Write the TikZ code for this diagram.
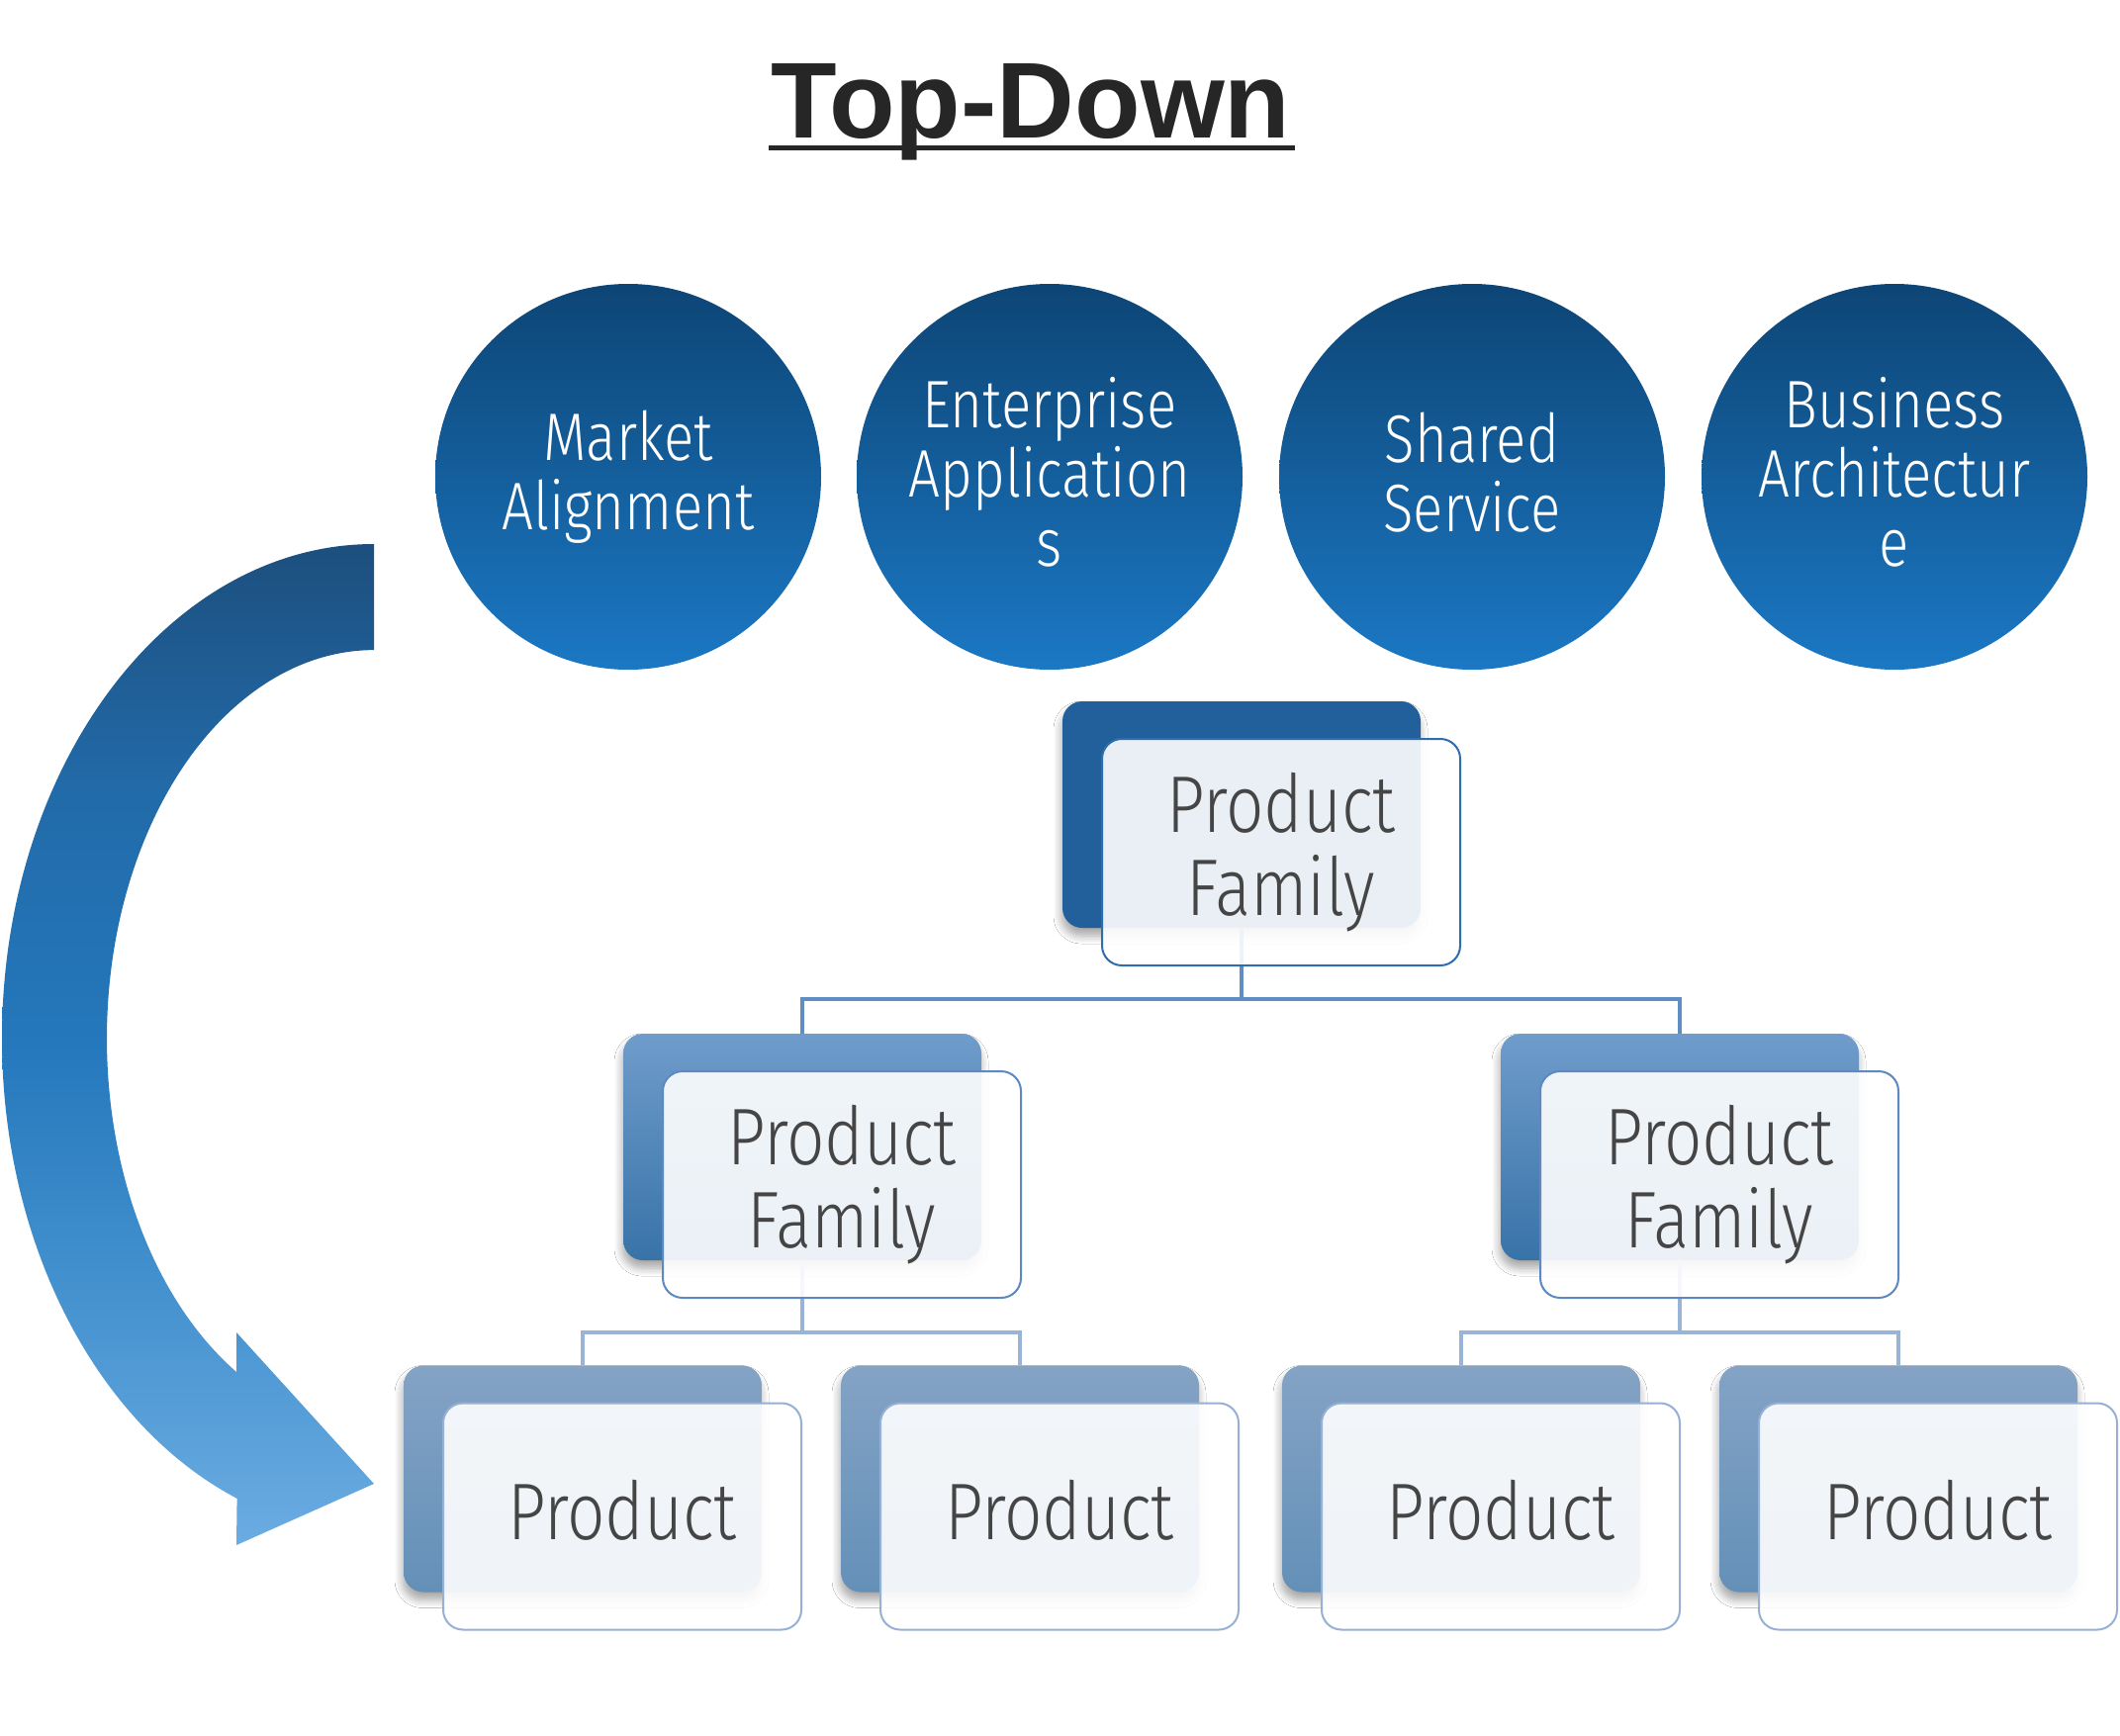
\documentclass[tikz,border=0pt]{standalone}
\usepackage{fontspec}
\usetikzlibrary{shadows.blur,calc}
\newfontfamily\lightfont{Fira Sans}[UprightFont=* Light, FakeStretch=0.83]
\newfontfamily\titlefont{Liberation Sans}
\definecolor{titlegray}{HTML}{262626}
\definecolor{txtgray}{HTML}{454545}
\definecolor{circtop}{HTML}{0D4575}
\definecolor{circbot}{HTML}{1B78C4}
\definecolor{arrtop}{HTML}{1C4F7E}
\definecolor{arrup}{HTML}{226AA8}
\definecolor{arrmid}{HTML}{2478BC}
\definecolor{arrlow}{HTML}{4592CF}
\definecolor{arrbot}{HTML}{6BACE2}
\definecolor{backA}{HTML}{21609A}
\definecolor{backBt}{HTML}{6F9CCB}
\definecolor{backBb}{HTML}{3873A8}
\definecolor{backCt}{HTML}{84A3C5}
\definecolor{backCb}{HTML}{6490B8}
\definecolor{edgeA}{HTML}{2F6EAE}
\definecolor{edgeB}{HTML}{5D89C0}
\definecolor{edgeC}{HTML}{97B0D3}
\definecolor{connA}{HTML}{5F8DC4}
\definecolor{connB}{HTML}{9AB4D8}
\pgfdeclareverticalshading{arrowshade}{100bp}{color(0bp)=(arrbot); color(25bp)=(arrbot);
  color(37.5bp)=(arrlow); color(50bp)=(arrmid); color(63bp)=(arrup); color(75bp)=(arrtop); color(100bp)=(arrtop)}
\newcommand\cstrut{\rule[-5pt]{0pt}{30pt}}
\newcommand\bstrut{\rule[-6.5pt]{0pt}{36.5pt}}
\tikzset{
  circ/.style={circle, minimum size=195pt, inner sep=0pt, top color=circtop, bottom color=circbot,
    text=white, align=center, font=\lightfont\fontsize{34}{35}\selectfont},
  backbox/.style={rectangle, rounded corners=10pt, minimum width=181pt, minimum height=114.5pt, inner sep=0pt,
    blur shadow={shadow xshift=-0.5pt, shadow yshift=-4pt, shadow blur radius=4pt, shadow blur steps=8, shadow opacity=35}},
  frontbox/.style={rectangle, rounded corners=10pt, minimum width=181pt, minimum height=114.5pt, inner sep=0pt,
    fill=white, fill opacity=0.9, text opacity=1, draw, line width=1pt, text=txtgray, align=center,
    font=\lightfont\fontsize{40.6}{42}\selectfont},
  conn/.style={line width=2pt},
}
\begin{document}
\begin{tikzpicture}[x=0.5pt, y=-0.5pt]
\useasboundingbox (0,0) rectangle (2143,1755);
\fill[white] (0,0) rectangle (2143,1755);

% title
\node[anchor=base, inner sep=0pt, text=titlegray, font=\titlefont\bfseries\fontsize{54.5}{60}\selectfont] (title) at (1042,140) {Top-Down};
\draw[titlegray, line width=2.5pt] ([xshift=-1pt,yshift=-5pt]title.base west) -- ([xshift=2pt,yshift=-5pt]title.base east);

% circles
\node[circ] (c1) at (635,482) {\cstrut Market\\\cstrut Alignment};
\node[circ] (c2) at (1061,482) {\cstrut Enterprise\\\cstrut Application\\\cstrut s};
\node[circ] (c3) at (1488,482) {\cstrut Shared\\\cstrut Service};
\node[circ] (c4) at (1915,482) {\cstrut Business\\\cstrut Architectur\\\cstrut e};

% curved arrow
\shade[shading=arrowshade]
  (378,550) arc[start angle=90, end angle=248.4, x radius=188pt, y radius=250pt]
  -- (239,1562) -- (378,1500) -- (239,1347) -- (239,1387)
  arc[start angle=239, end angle=90, x radius=135pt, y radius=196.5pt]
  -- cycle;

% back boxes
\node[backbox, fill=backA] (pf) at (1255,823.5) {};
\node[backbox, top color=backBt, bottom color=backBb] (pfl) at (811,1159.5) {};
\node[backbox, top color=backBt, bottom color=backBb] (pfr) at (1698,1159.5) {};
\node[backbox, top color=backCt, bottom color=backCb] (p1) at (589,1495) {};
\node[backbox, top color=backCt, bottom color=backCb] (p2) at (1031,1495) {};
\node[backbox, top color=backCt, bottom color=backCb] (p3) at (1477,1495) {};
\node[backbox, top color=backCt, bottom color=backCb] (p4) at (1919,1495) {};

% connectors (behind the front boxes)
\coordinate (j1) at (1255,1010);
\coordinate (j2) at (811,1347);
\coordinate (j3) at (1698,1347);
\draw[conn, connA] (pf.south) -- (j1) -| (pfl.north);
\draw[conn, connA] (j1) -| (pfr.north);
\draw[conn, connB] (pfl.south) -- (j2) -| (p1.north);
\draw[conn, connB] (j2) -| (p2.north);
\draw[conn, connB] (pfr.south) -- (j3) -| (p3.north);
\draw[conn, connB] (j3) -| (p4.north);

% front boxes
\node[frontbox, draw=edgeA] (pff) at ($(pf)+(40,38)$) {\bstrut Product\\\bstrut Family};
\node[frontbox, draw=edgeB] (pflf) at ($(pfl)+(40,38)$) {\bstrut Product\\\bstrut Family};
\node[frontbox, draw=edgeB] (pfrf) at ($(pfr)+(40,38)$) {\bstrut Product\\\bstrut Family};
\node[frontbox, draw=edgeC] (p1f) at ($(p1)+(40,38)$) {\bstrut Product};
\node[frontbox, draw=edgeC] (p2f) at ($(p2)+(40,38)$) {\bstrut Product};
\node[frontbox, draw=edgeC] (p3f) at ($(p3)+(40,38)$) {\bstrut Product};
\node[frontbox, draw=edgeC] (p4f) at ($(p4)+(40,38)$) {\bstrut Product};
\end{tikzpicture}
\end{document}
